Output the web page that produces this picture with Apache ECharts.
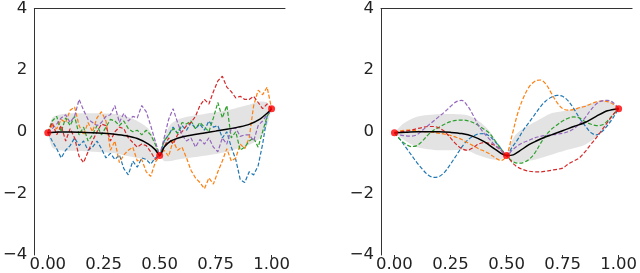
<!DOCTYPE html>
<html>
<head>
<meta charset="utf-8">
<script src="https://cdn.jsdelivr.net/npm/echarts@6/dist/echarts.min.js"></script>
<style>html,body{margin:0;padding:0;background:#fff}#c{width:640px;height:273px}</style>
</head>
<body>
<div id="c"></div>
<script>
// ---------- data ----------
const xTicks = [0, 0.25, 0.5, 0.75, 1.0];
const yTicks = [-4, -2, 0, 2, 4];

// observations
const obsX = [0, 0.5, 1.0];
const obsY = [-0.03, -0.77, 0.75];

// left panel (rough kernel) sample grid
const xL = [0,0.02,0.04,0.06,0.08,0.10,0.12,0.14,0.16,0.18,0.20,0.22,0.24,0.26,0.28,0.30,0.32,0.34,0.36,0.38,0.40,0.42,0.44,0.46,0.48,0.50,
  0.52,0.54,0.56,0.58,0.60,0.62,0.64,0.66,0.68,0.70,0.72,0.74,0.76,0.78,0.80,0.82,0.84,0.86,0.88,0.90,0.92,0.94,0.96,0.98,1.00];
const blueL = [-0.03,-0.3,-0.55,-0.85,-0.6,-0.45,-0.2,-0.45,-0.3,-0.6,-0.5,-0.3,-0.55,-0.85,-0.7,-0.9,-0.75,-1.2,-1.4,-0.95,-1.15,-0.85,-0.9,-1.05,-0.85,-0.77,
  -0.3,-0.1,0.15,-0.05,0.2,0.05,0.3,0.1,0.25,0.05,0.35,0.15,0.2,-0.2,0.0,-0.5,-0.9,-1.55,-1.65,-1.3,-1.4,-1.1,-0.4,0.5,0.75];
const orangeL = [-0.03,0.2,0.1,0.4,0.3,0.7,0.8,0.2,-0.1,0.3,0.0,0.45,0.65,0.35,-0.6,-0.3,-1.0,-0.75,-0.6,-0.5,-0.95,-0.9,-1.3,-1.45,-1.0,-0.77,
  -0.6,-0.8,-0.3,-0.6,-0.5,-0.85,-1.25,-1.5,-1.65,-1.85,-1.5,-1.7,-1.3,-0.95,-0.55,-0.95,-0.85,-0.4,-0.55,-0.2,0.85,1.35,1.2,1.45,0.75];
const greenL = [-0.03,0.35,0.5,0.0,0.45,0.2,0.5,-0.1,0.15,-0.3,-0.1,0.2,-0.1,0.15,0.4,0.35,0.2,0.35,0.1,0.0,0.05,-0.1,0.05,-0.1,-0.4,-0.77,
  -0.3,-0.1,0.1,-0.05,0.3,0.25,0.35,0.1,0.3,0.15,0.0,0.45,0.95,0.45,0.85,-0.2,0.0,-0.6,-0.5,-0.3,-0.2,-0.5,0.0,0.5,0.75];
const redL = [-0.03,0.3,-0.1,0.2,-0.3,0.1,-0.2,-0.8,-1.0,-0.65,-0.3,0.0,0.25,0.2,-0.3,0.0,0.15,0.1,-0.2,-0.35,-0.5,-0.4,-0.45,-0.65,-0.9,-0.77,
  -0.5,-0.2,-0.4,-0.1,0.0,0.2,0.3,0.5,0.85,1.05,0.9,1.3,1.65,1.8,1.45,1.3,1.1,1.15,1.05,1.05,1.15,0.95,0.75,0.9,0.75];
const purpleL = [-0.03,0.1,0.25,0.45,0.55,0.3,0.5,1.05,0.7,0.4,0.3,0.2,0.3,0.5,0.55,0.85,0.3,0.6,0.35,0.5,0.45,0.85,0.65,0.2,-0.3,-0.77,
  -0.2,0.4,0.75,0.3,-0.1,-0.3,-0.2,-0.5,-0.25,-0.4,-0.2,-0.5,-0.65,-0.2,-0.4,0.1,0.12,-0.15,-0.1,-0.1,-0.3,0.2,0.35,0.55,0.75];

const meanLX = [0,0.05,0.1,0.15,0.2,0.25,0.3,0.35,0.4,0.45,0.48,0.5,0.52,0.55,0.6,0.65,0.7,0.75,0.8,0.85,0.9,0.95,0.98,1.0];
const meanLY = [-0.03,-0.01,-0.01,-0.02,-0.03,-0.05,-0.08,-0.13,-0.22,-0.4,-0.58,-0.77,-0.5,-0.3,-0.17,-0.1,-0.04,0.02,0.08,0.15,0.24,0.42,0.6,0.75];

const bandLX  = [0,0.02,0.05,0.1,0.2,0.3,0.35,0.4,0.45,0.48,0.5,0.52,0.55,0.6,0.7,0.8,0.9,0.95,0.98,1.0];
const bandLUp = [-0.03,0.45,0.55,0.6,0.6,0.58,0.5,0.35,0.1,-0.3,-0.77,-0.2,0.25,0.45,0.58,0.7,0.88,0.98,0.95,0.75];
const bandLLo = [-0.03,-0.5,-0.6,-0.62,-0.65,-0.7,-0.78,-0.85,-0.92,-0.95,-0.77,-0.95,-0.95,-0.88,-0.78,-0.65,-0.42,-0.2,0.2,0.75];

// right panel (smooth kernel) sample grid
const xR = [0,0.025,0.05,0.075,0.1,0.125,0.15,0.175,0.2,0.225,0.25,0.275,0.3,0.325,0.35,0.375,0.4,0.425,0.45,0.475,0.5,
  0.525,0.55,0.575,0.6,0.625,0.65,0.675,0.7,0.725,0.75,0.775,0.8,0.825,0.85,0.875,0.9,0.925,0.95,0.975,1.0];
const blueR = [-0.03,-0.25,-0.5,-0.75,-1.0,-1.22,-1.4,-1.48,-1.45,-1.3,-1.05,-0.78,-0.5,-0.28,-0.15,-0.07,-0.06,-0.15,-0.33,-0.55,-0.77,
  -0.5,-0.25,0.05,0.3,0.55,0.8,1.0,1.12,1.18,1.15,1.0,0.75,0.45,0.2,-0.02,-0.1,0.0,0.2,0.45,0.75];
const orangeR = [-0.03,0.03,0.05,0.05,0.03,0.0,0.0,-0.02,-0.05,-0.08,-0.12,-0.18,-0.25,-0.35,-0.45,-0.55,-0.63,-0.72,-0.85,-0.93,-0.77,
  -0.1,0.6,1.1,1.45,1.63,1.68,1.55,1.25,0.95,0.75,0.7,0.72,0.78,0.82,0.9,0.97,1.0,0.98,0.9,0.75];
const greenR = [-0.03,-0.25,-0.4,-0.48,-0.45,-0.3,-0.1,0.05,0.15,0.25,0.33,0.37,0.38,0.36,0.3,0.2,0.08,-0.06,-0.3,-0.55,-0.77,
  -0.95,-1.02,-1.0,-0.9,-0.7,-0.4,-0.12,0.08,0.22,0.35,0.44,0.48,0.45,0.33,0.25,0.2,0.22,0.35,0.55,0.75];
const redR = [-0.03,0.0,0.02,0.05,0.1,0.14,0.17,0.17,0.12,0.0,-0.2,-0.4,-0.55,-0.6,-0.52,-0.4,-0.35,-0.38,-0.45,-0.6,-0.77,
  -1.0,-1.15,-1.23,-1.28,-1.3,-1.3,-1.28,-1.25,-1.22,-1.18,-1.05,-0.95,-0.85,-0.65,-0.42,-0.2,0.05,0.3,0.55,0.75];
const purpleR = [-0.03,-0.1,-0.13,-0.14,-0.1,0.05,0.2,0.35,0.5,0.65,0.82,0.97,1.02,0.85,0.55,0.2,-0.05,-0.25,-0.45,-0.6,-0.77,
  -0.6,-0.45,-0.35,-0.28,-0.2,-0.15,-0.12,-0.1,-0.08,-0.05,0.0,0.1,0.25,0.45,0.7,0.9,1.0,1.02,0.95,0.75];

const meanRX = [0,0.05,0.1,0.15,0.2,0.25,0.3,0.35,0.4,0.45,0.5,0.53,0.557,0.6,0.63,0.67,0.7,0.75,0.8,0.85,0.9,0.95,1.0];
const meanRY = [-0.03,-0.02,0.0,0.0,0.0,-0.02,-0.06,-0.15,-0.32,-0.57,-0.77,-0.75,-0.63,-0.42,-0.31,-0.18,-0.1,0.03,0.17,0.3,0.5,0.68,0.75];

const bandRX  = [0,0.04,0.1,0.2,0.32,0.37,0.42,0.46,0.48,0.5,0.52,0.54,0.565,0.63,0.7,0.775,0.85,0.92,0.965,1.0];
const bandRUp = [-0.03,0.27,0.49,0.57,0.54,0.38,0.06,-0.36,-0.55,-0.77,-0.35,-0.1,0.06,0.33,0.6,0.7,0.86,1.0,0.97,0.75];
const bandRLo = [-0.03,-0.25,-0.5,-0.6,-0.6,-0.75,-0.87,-0.92,-0.88,-0.77,-0.95,-1.0,-0.98,-0.9,-0.75,-0.58,-0.42,-0.05,0.38,0.75];

// ---------- styling ----------
const colors = ['#1f77b4','#ff7f0e','#2ca02c','#d62728','#9467bd'];
const FONT = 'DejaVu Sans';
const pairs = (xs, ys) => xs.map((x, i) => [x, ys[i]]);

function bandSeries(bx, up, lo, idx) {
  return {
    type: 'custom', xAxisIndex: idx * 2, yAxisIndex: idx, z: 1, silent: true,
    data: [[0, 0]],
    renderItem: function (params, api) {
      const pts = [];
      for (let i = 0; i < bx.length; i++) pts.push(api.coord([bx[i], up[i]]));
      for (let i = bx.length - 1; i >= 0; i--) pts.push(api.coord([bx[i], lo[i]]));
      return { type: 'polygon', shape: { points: pts, smooth: 0.25 }, style: { fill: '#e3e3e3' } };
    }
  };
}
function sampleSeries(xs, ys, color, idx, smooth) {
  return {
    type: 'line', xAxisIndex: idx * 2, yAxisIndex: idx, data: pairs(xs, ys),
    showSymbol: false, smooth: smooth, z: 3, silent: true,
    lineStyle: { color: color, width: 1.2, type: [4, 2] }
  };
}
function meanSeries(xs, ys, idx) {
  return {
    type: 'line', xAxisIndex: idx * 2, yAxisIndex: idx, data: pairs(xs, ys),
    showSymbol: false, smooth: 0.3, z: 4, silent: true,
    lineStyle: { color: '#000', width: 1.5 }
  };
}
function obsSeries(idx) {
  return {
    type: 'scatter', xAxisIndex: idx * 2, yAxisIndex: idx, data: pairs(obsX, obsY),
    symbolSize: 7, z: 5, itemStyle: { color: '#ff0000' }, silent: true
  };
}
function bottomX(g) {
  return {
    type: 'value', gridIndex: g, position: 'bottom', min: -0.06, max: 1.06,
    axisLine: { show: false, onZero: false },
    axisTick: { show: true, customValues: xTicks, length: 3.5, lineStyle: { color: '#333', width: 1 } },
    axisLabel: { customValues: xTicks, margin: 1, fontSize: 16.5, fontFamily: FONT, color: '#222',
      formatter: v => v.toFixed(2) },
    splitLine: { show: false }
  };
}
function topX(g) {
  return {
    type: 'value', gridIndex: g, position: 'top', min: -0.06, max: 1.06,
    axisLine: { show: true, onZero: false, lineStyle: { color: '#333', width: 1 } },
    axisTick: { show: false }, axisLabel: { show: false }, splitLine: { show: false }
  };
}
function yAx(g) {
  return {
    type: 'value', gridIndex: g, position: 'left', min: -4, max: 4, interval: 2,
    axisLine: { show: true, onZero: false, lineStyle: { color: '#333', width: 1 } },
    axisTick: { show: false }, splitLine: { show: false },
    axisLabel: { margin: 7, fontSize: 16.5, fontFamily: FONT, color: '#222',
      formatter: v => (v < 0 ? '\u2212' : '') + Math.abs(v) }
  };
}

const samplesL = [blueL, orangeL, greenL, redL, purpleL];
const samplesR = [blueR, orangeR, greenR, redR, purpleR];

const series = [
  bandSeries(bandLX, bandLUp, bandLLo, 0),
  ...samplesL.map((s, i) => sampleSeries(xL, s, colors[i], 0, false)),
  meanSeries(meanLX, meanLY, 0),
  obsSeries(0),
  bandSeries(bandRX, bandRUp, bandRLo, 1),
  ...samplesR.map((s, i) => sampleSeries(xR, s, colors[i], 1, 0.35)),
  meanSeries(meanRX, meanRY, 1),
  obsSeries(1)
];

const chart = echarts.init(document.getElementById('c'), null, { renderer: 'canvas' });
chart.setOption({
  animation: false,
  backgroundColor: '#fff',
  grid: [
    { left: 28, top: 5, width: 257, height: 251 },
    { left: 381, top: 5, width: 255, height: 251 }
  ],
  xAxis: [bottomX(0), topX(0), bottomX(1), topX(1)],
  yAxis: [yAx(0), yAx(1)],
  series: series
});
</script>
</body>
</html>
